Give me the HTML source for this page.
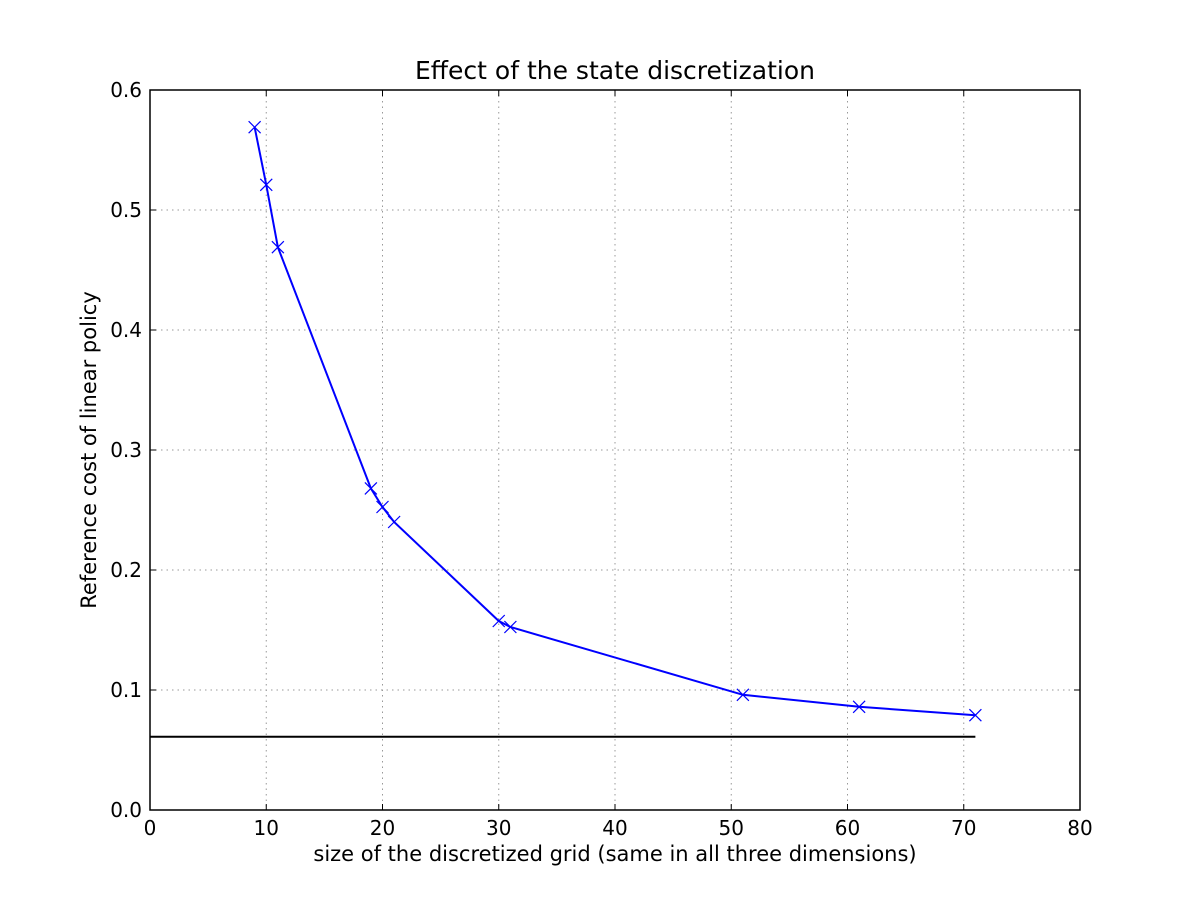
<!DOCTYPE html>
<html><head><meta charset="utf-8"><style>
body{margin:0;background:#fff;}
svg text{font-family:"DejaVu Sans","Liberation Sans",sans-serif;fill:#000;}
</style></head><body>
<svg id="chart" width="1200" height="900" xmlns="http://www.w3.org/2000/svg">
<rect width="1200" height="900" fill="#fff"/>
<g id="grid"></g>
<g id="ticks"></g>
<g id="series"></g>
<rect x="150" y="90" width="930" height="720" fill="none" stroke="#000" stroke-width="1.5"/>
<text x="615" y="79" font-size="25" text-anchor="middle">Effect of the state discretization</text>
<text x="615" y="861" font-size="21" text-anchor="middle">size of the discretized grid (same in all three dimensions)</text>
<text transform="translate(96,450) rotate(-90)" font-size="21" text-anchor="middle">Reference cost of linear policy</text>
</svg>
<script>
const xTicks=[0,10,20,30,40,50,60,70,80];
const yTicks=[0.0,0.1,0.2,0.3,0.4,0.5,0.6];
const gridSizes=[9,10,11,19,20,21,30,31,51,61,71];
const costs=[0.569,0.521,0.469,0.268,0.2525,0.24,0.1575,0.1525,0.096,0.086,0.079];
const baselineX=[0,71];
const baselineY=[0.061,0.061];
const X=v=>150+v*930/80, Y=v=>810-v*720/0.6;
const NS="http://www.w3.org/2000/svg";
function mk(p,t,a){const e=document.createElementNS(NS,t);for(const k in a)e.setAttribute(k,a[k]);p.appendChild(e);return e;}
const grid=document.getElementById('grid'),ticks=document.getElementById('ticks'),series=document.getElementById('series');
xTicks.forEach(v=>{
 const g=mk(grid,'line',{x1:X(v),x2:X(v),y1:90,y2:810,stroke:'#999','stroke-dasharray':'1.5,4','stroke-width':1});
 
 
 mk(ticks,'line',{x1:X(v),x2:X(v),y1:810,y2:804,stroke:'#000'});
 mk(ticks,'line',{x1:X(v),x2:X(v),y1:90,y2:96,stroke:'#000'});
 const t=mk(ticks,'text',{x:X(v),y:835,'font-size':20,'text-anchor':'middle'});t.textContent=v;
 
 
});
yTicks.forEach(v=>{
 const g=mk(grid,'line',{x1:150,x2:1080,y1:Y(v),y2:Y(v),stroke:'#999','stroke-dasharray':'1.5,4','stroke-width':1});
 
 
 mk(ticks,'line',{x1:150,x2:156,y1:Y(v),y2:Y(v),stroke:'#000'});
 mk(ticks,'line',{x1:1074,x2:1080,y1:Y(v),y2:Y(v),stroke:'#000'});
 const t=mk(ticks,'text',{x:142,y:Y(v)+7,'font-size':20,'text-anchor':'end'});t.textContent=v.toFixed(1);
 
 
});
const base=mk(series,'polyline',{points:baselineX.map((x,i)=>X(x)+','+Y(baselineY[i])).join(' '),fill:'none',stroke:'#000','stroke-width':2});


const line=mk(series,'polyline',{points:gridSizes.map((x,i)=>X(x)+','+Y(costs[i])).join(' '),fill:'none',stroke:'#0000ff','stroke-width':2});


gridSizes.forEach((x,i)=>{
 const cx=X(x),cy=Y(costs[i]),s=6;
 const m=mk(series,'path',{d:`M${cx-s},${cy-s}L${cx+s},${cy+s}M${cx-s},${cy+s}L${cx+s},${cy-s}`,stroke:'#0000ff','stroke-width':1.2,fill:'none'});
 
 
});
</script>
</body></html>
